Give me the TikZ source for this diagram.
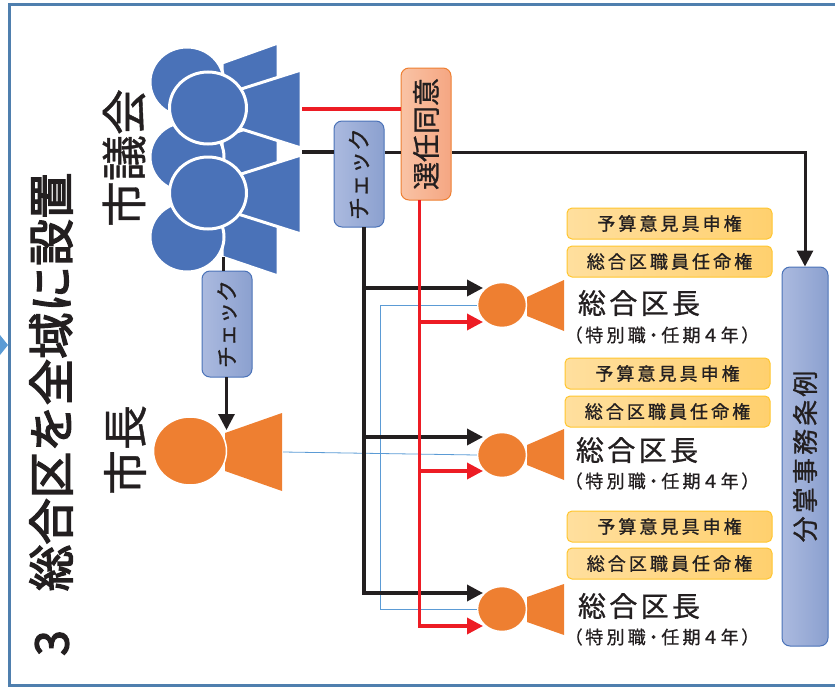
\documentclass[tikz,border=0pt]{standalone}
\usepackage{fontspec}
\setmainfont[FakeBold=0.9]{Noto Sans CJK JP}
\newfontfamily\cjktitle[FakeBold=3]{Noto Sans CJK JP}
\newfontfamily\cjkyel[LetterSpace=17,FakeBold=1]{Noto Sans CJK JP}
\newfontfamily\cjkname[LetterSpace=12,FakeBold=1]{Noto Sans CJK JP}
\newfontfamily\cjksub[RawFeature=+palt,LetterSpace=18,FakeBold=0.8]{Noto Sans CJK JP}
\usetikzlibrary{arrows.meta, shapes.geometric}

\definecolor{framec}{HTML}{4F7FAE}
\definecolor{bluep}{HTML}{4A72B8}
\definecolor{orangep}{HTML}{EE7F31}
\definecolor{inkc}{HTML}{231F20}
\definecolor{redl}{HTML}{ED1C24}
\definecolor{thinl}{HTML}{5B9BD5}
\definecolor{boxbl}{HTML}{ABBADF}
\definecolor{boxbr}{HTML}{8BA0CF}
\definecolor{boxsl}{HTML}{F9C3A5}
\definecolor{boxsr}{HTML}{F5A682}
\definecolor{boxyl}{HTML}{FFDF9E}
\definecolor{boxyr}{HTML}{FFD06E}
\definecolor{boxyb}{HTML}{FFC62E}

\tikzset{
  headb/.style={ellipse,fill=bluep,draw=white,line width=3pt,inner sep=0pt},
  heado/.style={ellipse,fill=orangep,draw=white,line width=1.5pt,inner sep=0pt},
  bodyb/.style={fill=bluep,draw=white,line width=3pt},
  bodyo/.style={fill=orangep},
  bluebox/.style={draw=bluep,line width=1pt,rounded corners=8pt,left color=boxbl,right color=boxbr,inner sep=0pt,text=inkc},
  salmonbox/.style={draw=orangep,line width=1pt,rounded corners=8pt,left color=boxsl,right color=boxsr,inner sep=0pt,text=inkc},
  yelbox/.style={draw=boxyb,line width=1pt,rounded corners=5pt,left color=boxyl,right color=boxyr,inner sep=0pt,text=inkc,minimum width=205pt,minimum height=31pt,font=\fontsize{18}{18}\selectfont\cjkyel},
  lab/.style={inner sep=0pt,text=inkc},
  blackl/.style={draw=inkc,line width=3.5pt},
  redline/.style={draw=redl,line width=3.5pt},
  blackarr/.style={blackl,-{Triangle[length=16pt,width=16pt]}},
  redarr/.style={redline,-{Triangle[length=16pt,width=16pt]}},
  thinline/.style={draw=thinl,line width=0.8pt}
}

\begin{document}
\begin{tikzpicture}[x=1pt,y=-1pt]
\useasboundingbox (0,0) rectangle (835,688);

\draw[framec,line width=3pt] (835,4) -- (9.5,4) -- (9.5,685) -- (835,685);
\fill[thinl] (0,335) -- (8,345) -- (0,355) -- cycle;

\node[lab,rotate=90,font=\fontsize{46}{46}\selectfont\cjktitle] (num) at (52,643) {3};
\node[lab,rotate=90,font=\fontsize{46.5}{46}\selectfont\cjktitle] (title) at (51,382) {総合区を全域に設置};
\node[lab,rotate=90,font=\fontsize{46}{46}\selectfont] (council) at (124,158) {市議会};
\node[lab,rotate=90,font=\fontsize{45}{45}\selectfont] (mayortxt) at (125,450) {市長};

% council
\draw[bodyb] (222,63) -- (278,43) -- (278,121) -- (222,101) -- cycle;
\draw[bodyb] (222,137) -- (278,118) -- (278,196) -- (222,177) -- cycle;
\draw[bodyb] (222,217) -- (278,198) -- (278,276) -- (222,257) -- cycle;
\node[headb,minimum width=74pt,minimum height=70pt] (cb1) at (187,82) {};
\node[headb,minimum width=74pt,minimum height=70pt] (cb2) at (187,157) {};
\node[headb,minimum width=74pt,minimum height=70pt] (cb3) at (187,237) {};
\draw[bodyb] (238,90) -- (301,70) -- (301,148) -- (238,128) -- cycle;
\draw[bodyb] (238,175) -- (301,155) -- (301,234) -- (238,214) -- cycle;
\node[headb,minimum width=77pt,minimum height=72pt] (cf1) at (208,108) {};
\node[headb,minimum width=77pt,minimum height=72pt] (cf2) at (208,193) {};

% mayor
\fill[bodyo] (225,433) -- (282,413) -- (282,491) -- (225,471) -- cycle;
\node[heado,minimum width=73pt,minimum height=68pt] (mayor) at (190,451) {};

% ward heads
\fill[bodyo] (527,297) -- (564,280) -- (564,331) -- (527,316) -- cycle;
\fill[bodyo] (527,445) -- (564,429) -- (564,480) -- (527,465) -- cycle;
\fill[bodyo] (527,597) -- (564,584) -- (564,635) -- (527,622) -- cycle;
\node[heado,minimum width=49pt,minimum height=45pt] (dist1) at (502,305) {};
\node[heado,minimum width=49pt,minimum height=45pt] (dist2) at (502,455) {};
\node[heado,minimum width=49pt,minimum height=45pt] (dist3) at (502,609) {};

% boxes
\node[bluebox,minimum width=50pt,minimum height=106pt] (chk1) at (359,174) {\rotatebox{90}{\fontsize{23}{23}\selectfont チェック}};
\node[bluebox,minimum width=50pt,minimum height=106pt] (chk2) at (227,324) {\rotatebox{90}{\fontsize{22}{22}\selectfont チェック}};
\node[salmonbox,minimum width=50pt,minimum height=132pt] (appr) at (426,134) {\rotatebox{90}{\fontsize{28}{28}\selectfont 選任同意}};
\node[bluebox,minimum width=46pt,minimum height=379pt] (bylaw) at (805,456.5) {\rotatebox{90}{\fontsize{26}{26}\selectfont\cjkname 分掌事務条例}};

\node[yelbox] (opin1) at (669.5,223.5) {予算意見具申権};
\node[yelbox] (appt1) at (669.5,261.5) {総合区職員任命権};
\node[yelbox] (opin2) at (667.5,373.5) {予算意見具申権};
\node[yelbox] (appt2) at (667.5,411.5) {総合区職員任命権};
\node[yelbox] (opin3) at (669.5,526.5) {予算意見具申権};
\node[yelbox] (appt3) at (669.5,563.5) {総合区職員任命権};

\node[lab,font=\fontsize{28}{28}\selectfont\cjkname] (name1) at (639,303) {総合区長};
\node[lab,font=\fontsize{18}{18}\selectfont\cjksub] (sub1) at (662,335) {（特別職・任期４年）};
\node[lab,font=\fontsize{28}{28}\selectfont\cjkname] (name2) at (637,450) {総合区長};
\node[lab,font=\fontsize{18}{18}\selectfont\cjksub] (sub2) at (662,481) {（特別職・任期４年）};
\node[lab,font=\fontsize{28}{28}\selectfont\cjkname] (name3) at (639,606) {総合区長};
\node[lab,font=\fontsize{18}{18}\selectfont\cjksub] (sub3) at (662,637) {（特別職・任期４年）};

% connectors
\coordinate (redstart) at (302,109);
\coordinate (blackstart) at (302,152);
\coordinate (blacktrunk) at (364,227);
\coordinate (redtrunk) at (419.5,200);
\coordinate (bt1) at (483,288);
\coordinate (bt2) at (483,437);
\coordinate (bt3) at (483,593);
\coordinate (rt1) at (483,322);
\coordinate (rt2) at (483,471);
\coordinate (rt3) at (483,626);
\coordinate (cbottom) at (223,257);
\coordinate (cbtop) at (223,271);
\coordinate (mayorfrom) at (226.5,377);
\coordinate (mayortip) at (226.5,430);
\coordinate (mayorright) at (283,452);
\coordinate (thinv) at (380,305);

\draw[thinline] (mayorright) -- (dist2.west);
\draw[thinline] (dist1.west) -- (thinv) -- (thinv |- dist3.west) -- (dist3.west);

\draw[blackl,line width=4.5pt] (blackstart) -- (blackstart -| chk1.west);
\draw[blackl,line width=3pt] (blackstart -| chk1.east) -- (blackstart -| appr.west);
\draw[blackl,line width=3pt,-{Triangle[length=16pt,width=16pt]}] (blackstart -| appr.east) -- (blackstart -| bylaw.north) -- (bylaw.north);
\draw[blackl,line width=3pt] (cbottom) -- (cbtop);
\draw[blackl,line width=3pt,-{Triangle[length=16pt,width=16pt]}] (mayorfrom) -- (mayortip);

\draw[blackl] (blacktrunk) -- (blacktrunk |- bt1);
\draw[blackarr] (blacktrunk |- bt1) -- (bt1);
\draw[blackl] (blacktrunk |- bt1) -- (blacktrunk |- bt2);
\draw[blackarr] (blacktrunk |- bt2) -- (bt2);
\draw[blackarr] (blacktrunk |- bt2) -- (blacktrunk |- bt3) -- (bt3);

\draw[redline] (redstart) -- (redstart -| appr.west);
\draw[redline] (redtrunk) -- (redtrunk |- rt1);
\draw[redarr] (redtrunk |- rt1) -- (rt1);
\draw[redline] (redtrunk |- rt1) -- (redtrunk |- rt2);
\draw[redarr] (redtrunk |- rt2) -- (rt2);
\draw[redarr] (redtrunk |- rt2) -- (redtrunk |- rt3) -- (rt3);
\end{tikzpicture}
\end{document}
